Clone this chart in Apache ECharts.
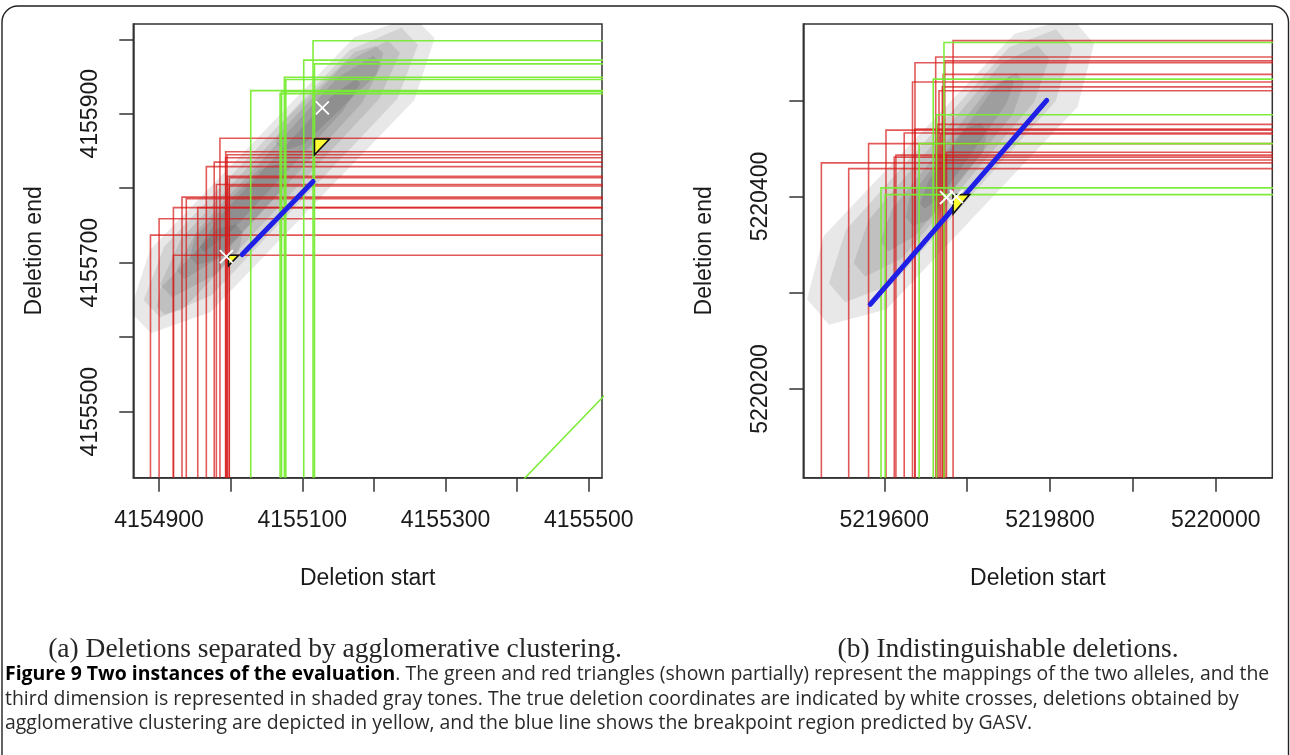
<!DOCTYPE html>
<html><head><meta charset="utf-8">
<script src="https://cdn.jsdelivr.net/npm/echarts@6.0.0/dist/echarts.min.js"></script>
<style>html,body{margin:0;padding:0;background:#fff}#c{width:1290px;height:755px}</style>
</head><body><div id="c"></div><script>
// ================= DATA =================
// (a) left panel
const leftXRange = [4154864, 4155518.5];
const leftYRange = [4155411.3, 4156020.5];
const leftXTicks = [4154900, 4155000, 4155100, 4155200, 4155300, 4155400, 4155500];
const leftXLabels = [4154900, 4155100, 4155300, 4155500];
const leftYTicks = [4155500, 4155600, 4155700, 4155800, 4155900, 4156000];
const leftYLabels = [4155500, 4155700, 4155900];
// triangle corners [start, end] (shown partially)
const leftRed = [
  [4154888, 4155737], [4154900, 4155759], [4154920, 4155774], [4154920, 4155710],
  [4154932, 4155788], [4154938, 4155786], [4154954, 4155774], [4154966, 4155829],
  [4154977, 4155835], [4154980, 4155805], [4154985, 4155867], [4154993, 4155849],
  [4154993, 4155841], [4154995, 4155845], [4154995, 4155816], [4154998, 4155814],
  [4154998, 4155803]
];
const leftGreen = [
  [4155115, 4155998], [4155102, 4155972], [4155117, 4155967], [4155075, 4155949],
  [4155077, 4155946], [4155028, 4155931], [4155071, 4155930], [4155069, 4155927]
];
const leftDiagonal = [[4155300, 4155300], [4155600, 4155600]];
const leftBlue = [[4155016, 4155711], [4155115, 4155809]];
const leftCrosses = [[4155128, 4155908], [4154994, 4155708]];
// yellow: [corner start, corner end, leg]
const leftYellow = [[4155117, 4155866, 21], [4154997, 4155710, 14]];
// gray tones: [start0, end0, start1, end1, half-spread]
const leftGray = [
  [4154874, 4155620, 4155270, 4156016, 42],
  [4154890, 4155638, 4155250, 4156004, 33],
  [4154910, 4155662, 4155228, 4155990, 24],
  [4154930, 4155684, 4155205, 4155972, 17],
  [4154948, 4155702, 4155072, 4155828, 15],
  [4155068, 4155856, 4155208, 4155986, 15],
  [4154960, 4155718, 4155178, 4155944, 9],
  [4154902, 4155636, 4155012, 4155746, 15]
];

// (b) right panel
const rightXRange = [5219502.2, 5220068.3];
const rightYRange = [5220107.8, 5220579.3];
const rightXTicks = [5219600, 5219700, 5219800, 5219900, 5220000];
const rightXLabels = [5219600, 5219800, 5220000];
const rightYTicks = [5220200, 5220300, 5220400, 5220500];
const rightYLabels = [5220200, 5220400];
const rightRed = [
  [5219524, 5220435], [5219557, 5220429], [5219581, 5220455], [5219602, 5220469],
  [5219612, 5220441], [5219614, 5220443], [5219624, 5220466], [5219634, 5220519],
  [5219637, 5220539], [5219662, 5220545], [5219664, 5220475], [5219666, 5220510],
  [5219671, 5220527], [5219675, 5220446], [5219683, 5220562], [5219670, 5220514],
  [5219673, 5220541], [5219668, 5220465], [5219672, 5220438], [5219637, 5220470]
];
const rightGreen = [
  [5219672, 5220560], [5219659, 5220522], [5219663, 5220485],
  [5219642, 5220455], [5219596, 5220409], [5219601, 5220402]
];
const rightBlue = [[5219583, 5220288], [5219796, 5220500]];
const rightCrosses = [[5219675, 5220399], [5219687, 5220400]];
const rightYellow = [[5219683, 5220402, 20]];
const rightGray = [
  [5219520, 5220280, 5219840, 5220572, 38],
  [5219543, 5220300, 5219817, 5220564, 28],
  [5219570, 5220324, 5219792, 5220550, 20],
  [5219600, 5220348, 5219764, 5220524, 14],
  [5219630, 5220374, 5219720, 5220472, 12],
  [5219646, 5220390, 5219754, 5220522, 8]
];

const xTitle = 'Deletion start';
const yTitle = 'Deletion end';
const subA = '(a) Deletions separated by agglomerative clustering.';
const subB = '(b) Indistinguishable deletions.';
const capBold = 'Figure 9 Two instances of the evaluation';
const capLines = [
  '. The green and red triangles (shown partially) represent the mappings of the two alleles, and the',
  'third dimension is represented in shaded gray tones. The true deletion coordinates are indicated by white crosses, deletions obtained by',
  'agglomerative clustering are depicted in yellow, and the blue line shows the breakpoint region predicted by GASV.'
];

// ================= STYLE / BUILD =================
const SANS = 'Liberation Sans, Arial, Helvetica, sans-serif';
const RED = 'rgba(215,25,25,0.72)';
const GREEN = 'rgba(120,236,50,0.95)';

function measure(text, font) {
  const ctx = document.createElement('canvas').getContext('2d');
  ctx.font = font;
  return ctx.measureText(text).width;
}

function axisPair(i, xr, yr, xt, xl, yt, yl) {
  const tick = {show: true, inside: false, length: 14, lineStyle: {color: '#333', width: 1.5}};
  const lab = {fontSize: 23, fontFamily: SANS, color: '#1a1a1a', margin: 31, formatter: v => String(v)};
  const x = {
    type: 'value', gridIndex: i, min: xr[0], max: xr[1],
    axisLine: {show: true, lineStyle: {color: '#333', width: 1.5}},
    axisTick: Object.assign({}, tick, {customValues: xt}),
    axisLabel: Object.assign({}, lab, {customValues: xl}),
    splitLine: {show: false},
    name: xTitle, nameLocation: 'middle', nameGap: 89,
    nameTextStyle: {fontSize: 23, fontFamily: SANS, color: '#1a1a1a'}
  };
  const y = {
    type: 'value', gridIndex: i, min: yr[0], max: yr[1],
    axisLine: {show: true, lineStyle: {color: '#333', width: 1.5}},
    axisTick: Object.assign({}, tick, {customValues: yt}),
    axisLabel: Object.assign({}, lab, {customValues: yl, rotate: 90}),
    splitLine: {show: false},
    name: yTitle, nameLocation: 'middle', nameGap: 87, nameRotate: 90,
    nameTextStyle: {fontSize: 23, fontFamily: SANS, color: '#1a1a1a'}
  };
  return [x, y];
}

// elongated, slightly tapered band along the diagonal
function graySeries(i, data) {
  return {
    type: 'custom', xAxisIndex: i, yAxisIndex: i, clip: true, silent: true, z: 1, data,
    renderItem(p, api) {
      const x0 = api.value(0), y0 = api.value(1), x1 = api.value(2), y1 = api.value(3), w = api.value(4);
      const at = t => [x0 + (x1 - x0) * t, y0 + (y1 - y0) * t];
      const a = at(0.14), b = at(0.86);
      const pts = [
        api.coord([x0 + w * 0.35, y0 - w * 0.35]),
        api.coord([a[0] + w, a[1] - w]), api.coord([b[0] + w, b[1] - w]),
        api.coord([x1 + w * 0.35, y1 - w * 0.35]),
        api.coord([x1 - w * 0.35, y1 + w * 0.35]),
        api.coord([b[0] - w, b[1] + w]), api.coord([a[0] - w, a[1] + w]),
        api.coord([x0 - w * 0.35, y0 + w * 0.35])
      ];
      return {type: 'polygon', shape: {points: pts}, style: {fill: 'rgba(0,0,0,0.092)', stroke: null}};
    }
  };
}

function lSeries(i, data, color, xr, yr, z) {
  return {
    type: 'custom', xAxisIndex: i, yAxisIndex: i, clip: true, silent: true, z, data,
    renderItem(p, api) {
      const a = api.value(0), b = api.value(1);
      const pts = [api.coord([a, yr[0] - 50]), api.coord([a, b]), api.coord([xr[1] + 50, b])];
      return {type: 'polyline', shape: {points: pts}, style: {stroke: color, lineWidth: 1.6, fill: null}};
    }
  };
}

function yellowSeries(i, data) {
  return {
    type: 'custom', xAxisIndex: i, yAxisIndex: i, clip: true, silent: true, z: 6, data,
    renderItem(p, api) {
      const a = api.value(0), b = api.value(1), d = api.value(2);
      return {type: 'polygon', shape: {points: [api.coord([a, b]), api.coord([a + d, b]), api.coord([a, b - d])]},
        style: {fill: '#ffff33', stroke: '#111', lineWidth: 1.6, lineJoin: 'miter'}};
    }
  };
}

function crossSeries(i, data) {
  return {
    type: 'custom', xAxisIndex: i, yAxisIndex: i, clip: true, silent: true, z: 7, data,
    renderItem(p, api) {
      const c = api.coord([api.value(0), api.value(1)]);
      const s = 6.5;
      const st = {stroke: '#ffffff', lineWidth: 1.8};
      return {type: 'group', children: [
        {type: 'line', shape: {x1: c[0] - s, y1: c[1] - s, x2: c[0] + s, y2: c[1] + s}, style: st},
        {type: 'line', shape: {x1: c[0] - s, y1: c[1] + s, x2: c[0] + s, y2: c[1] - s}, style: st}
      ]};
    }
  };
}

function lineSeries(i, data, color, width, z) {
  return {type: 'line', xAxisIndex: i, yAxisIndex: i, data, symbol: 'none', silent: true, z, clip: true,
    lineStyle: {color, width, cap: 'round'}, animation: false};
}

const [lx, ly] = axisPair(0, leftXRange, leftYRange, leftXTicks, leftXLabels, leftYTicks, leftYLabels);
const [rx, ry] = axisPair(1, rightXRange, rightYRange, rightXTicks, rightXLabels, rightYTicks, rightYLabels);

// caption text layout
const capSize = (() => {
  const wb = measure(capBold, 'bold 100px "Open Sans"');
  const wr = measure(capLines[0], '100px "Open Sans"');
  return 100 * 1265 / (wb + wr);
})();
const capBoldW = measure(capBold, 'bold ' + capSize + 'px "Open Sans"');
const subSize = 100 * 574 / measure(subA, '100px "Liberation Serif"');

const graphics = [
  {type: 'rect', shape: {x: 2, y: 6, width: 1286.5, height: 800, r: 16}, style: {fill: null, stroke: '#222', lineWidth: 1.4}, silent: true},
  {type: 'text', x: 335, y: 650, style: {text: subA, font: subSize + 'px "Liberation Serif", serif', fill: '#262626', textAlign: 'center', textVerticalAlign: 'middle'}},
  {type: 'text', x: 1008, y: 650, style: {text: subB, font: subSize + 'px "Liberation Serif", serif', fill: '#262626', textAlign: 'center', textVerticalAlign: 'middle'}},
  {type: 'text', x: 5, y: 674, style: {text: capBold, font: 'bold ' + capSize + 'px "Open Sans", sans-serif', fill: '#000', textAlign: 'left', textVerticalAlign: 'middle'}},
  {type: 'text', x: 5 + capBoldW, y: 674, style: {text: capLines[0], font: capSize + 'px "Open Sans", sans-serif', fill: '#2a2a2a', textAlign: 'left', textVerticalAlign: 'middle'}},
  {type: 'text', x: 5, y: 699, style: {text: capLines[1], font: capSize + 'px "Open Sans", sans-serif', fill: '#2a2a2a', textAlign: 'left', textVerticalAlign: 'middle'}},
  {type: 'text', x: 5, y: 723, style: {text: capLines[2], font: capSize + 'px "Open Sans", sans-serif', fill: '#2a2a2a', textAlign: 'left', textVerticalAlign: 'middle'}}
];

const option = {
  animation: false,
  backgroundColor: '#ffffff',
  grid: [
    {left: 133.3, top: 24, width: 468.7, height: 453.7, show: true, borderColor: '#333', borderWidth: 1.5, backgroundColor: 'transparent', containLabel: false},
    {left: 803.3, top: 24, width: 469, height: 453.7, show: true, borderColor: '#333', borderWidth: 1.5, backgroundColor: 'transparent', containLabel: false}
  ],
  xAxis: [lx, rx],
  yAxis: [ly, ry],
  series: [
    graySeries(0, leftGray),
    lSeries(0, leftRed, RED, leftXRange, leftYRange, 2),
    lSeries(0, leftGreen, GREEN, leftXRange, leftYRange, 3),
    lineSeries(0, leftDiagonal, GREEN, 1.6, 3),
    lineSeries(0, leftBlue, '#1f1fe6', 5, 5),
    yellowSeries(0, leftYellow),
    crossSeries(0, leftCrosses),
    graySeries(1, rightGray),
    lSeries(1, rightRed, RED, rightXRange, rightYRange, 2),
    lSeries(1, rightGreen, GREEN, rightXRange, rightYRange, 3),
    lineSeries(1, rightBlue, '#1f1fe6', 5, 5),
    yellowSeries(1, rightYellow),
    crossSeries(1, rightCrosses)
  ],
  graphic: graphics
};
const chart = echarts.init(document.getElementById('c'));
chart.setOption(option);
</script></body></html>
